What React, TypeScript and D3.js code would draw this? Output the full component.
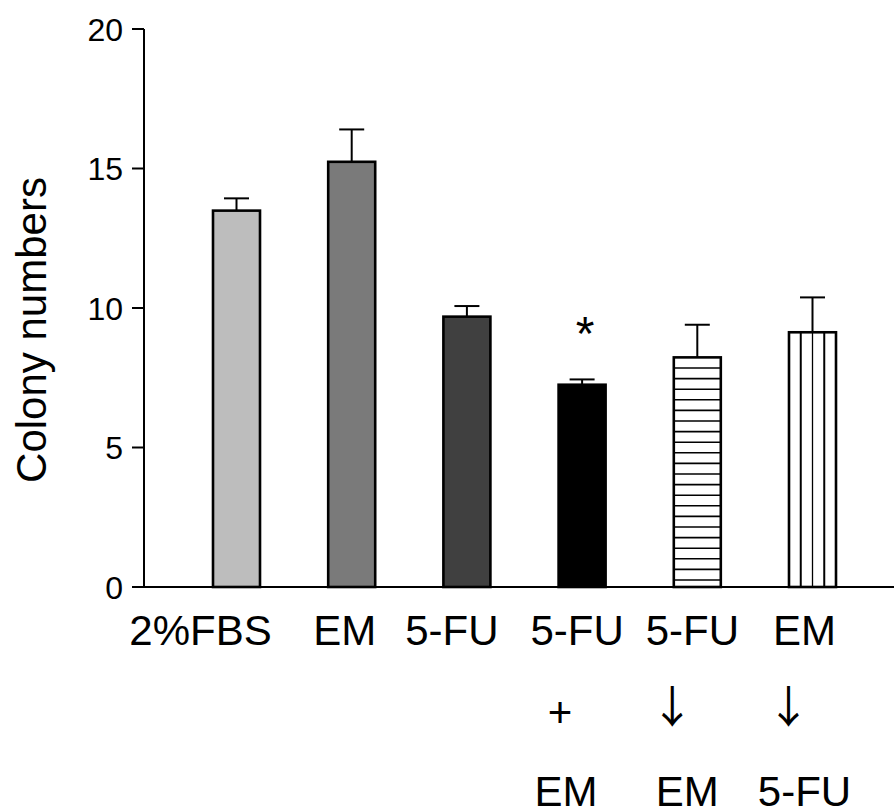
import React from "react";
import * as d3 from "d3";

const categories = ["2%FBS", "EM", "5-FU", "5-FU+EM", "5-FU→EM", "EM→5-FU"];
const means = [13.49, 15.24, 9.69, 7.25, 8.23, 9.13];
const sems = [0.44, 1.16, 0.38, 0.19, 1.17, 1.25];
const labelRow1 = ["2%FBS", "EM", "5-FU", "5-FU", "5-FU", "EM"];
const labelRow2 = ["", "", "", "+", "↓", "↓"];
const labelRow3 = ["", "", "", "EM", "EM", "5-FU"];
const yTicks = [0, 5, 10, 15, 20];
const fills = ["#bdbdbd", "#7a7a7a", "#404040", "#000000", "#ffffff", "#ffffff"];
const patterns = ["none", "none", "none", "none", "horizontal", "vertical"];
const significance = ["", "", "", "*", "", ""];

// layout constants (text offsets relative to bar centers)
const row1Dx = [-36, -7, -15, -5, -5, -8];
const row2Dx = [0, 0, 0, -22, -25, -24];
const row3Dx = [0, 0, 0, -16, -10, -8];

const W = 894;
const H = 810;
const FONT = "'Liberation Sans', Arial, sans-serif";
const ARROW_FONT = "'Noto Sans CJK SC', 'DejaVu Sans', sans-serif";

export default function App() {
  const x = d3
    .scaleBand<string>()
    .domain(categories)
    .range([155.4, 893.6])
    .paddingInner(0.592)
    .paddingOuter(0.5);
  const y = d3.scaleLinear().domain([0, 20]).range([587, 29]);
  const axisX = 144;
  const bw = x.bandwidth();

  return (
    <svg
      width={W}
      height={H}
      style={{ position: "absolute", left: 0, top: 0, background: "#fff" }}
      fontFamily={FONT}
    >
      {/* bars */}
      {categories.map((c, i) => {
        const x0 = x(c)!;
        const top = y(means[i]);
        const bottom = y(0);
        const cx = x0 + bw / 2;
        const errTop = y(means[i] + sems[i]);
        const inner: JSX.Element[] = [];
        if (patterns[i] === "horizontal") {
          const step = 10.6;
          for (let yy = bottom - 7; yy > top + 2; yy -= step) {
            inner.push(
              <line key={yy} x1={x0} x2={x0 + bw} y1={yy} y2={yy} stroke="#000" strokeWidth={1.6} />
            );
          }
        } else if (patterns[i] === "vertical") {
          for (let k = 1; k < 4; k++) {
            const xx = x0 + (bw * k) / 4;
            inner.push(
              <line key={k} x1={xx} x2={xx} y1={top} y2={bottom} stroke="#000" strokeWidth={k === 2 ? 1.3 : 2} />
            );
          }
        }
        return (
          <g key={c}>
            <line x1={cx} x2={cx} y1={top} y2={errTop} stroke="#000" strokeWidth={2} />
            <line x1={cx - 12.5} x2={cx + 12.5} y1={errTop} y2={errTop} stroke="#000" strokeWidth={2} />
            <rect x={x0} y={top} width={bw} height={bottom - top} fill={fills[i]} />
            {inner}
            <rect
              x={x0}
              y={top}
              width={bw}
              height={bottom - top}
              fill="none"
              stroke="#000"
              strokeWidth={2.6}
            />
            {significance[i] && (
              <text x={cx + 3} y={y(means[i] + sems[i]) - 29} textAnchor="middle" fontSize={48}>
                {significance[i]}
              </text>
            )}
          </g>
        );
      })}

      {/* y axis */}
      <line x1={axisX} x2={axisX} y1={y(20)} y2={y(0)} stroke="#000" strokeWidth={2} />
      {yTicks.map((t) => (
        <g key={t}>
          <line x1={axisX - 12} x2={axisX} y1={y(t)} y2={y(t)} stroke="#000" strokeWidth={2} />
          <text x={axisX - 21} y={y(t)} dy="0.36em" textAnchor="end" fontSize={32}>
            {t}
          </text>
        </g>
      ))}
      {/* x axis */}
      <line x1={axisX - 12} x2={W} y1={y(0)} y2={y(0)} stroke="#000" strokeWidth={2} />

      {/* y label */}
      <text
        transform={`translate(46, 330) rotate(-90)`}
        textAnchor="middle"
        fontSize={42}
      >
        Colony numbers
      </text>

      {/* x labels */}
      {categories.map((c, i) => {
        const cx = x(c)! + bw / 2;
        const isArrow = labelRow2[i] === "↓";
        return (
          <g key={"l" + c}>
            <text x={cx + row1Dx[i]} y={645} textAnchor="middle" fontSize={42}>
              {labelRow1[i]}
            </text>
            {labelRow2[i] && (
              <text
                x={cx + row2Dx[i]}
                y={isArrow ? 723 : 727}
                textAnchor="middle"
                fontSize={isArrow ? 44 : 42}
                fontFamily={isArrow ? ARROW_FONT : FONT}
              >
                {labelRow2[i]}
              </text>
            )}
            {labelRow3[i] && (
              <text x={cx + row3Dx[i]} y={806} textAnchor="middle" fontSize={42}>
                {labelRow3[i]}
              </text>
            )}
          </g>
        );
      })}
    </svg>
  );
}
